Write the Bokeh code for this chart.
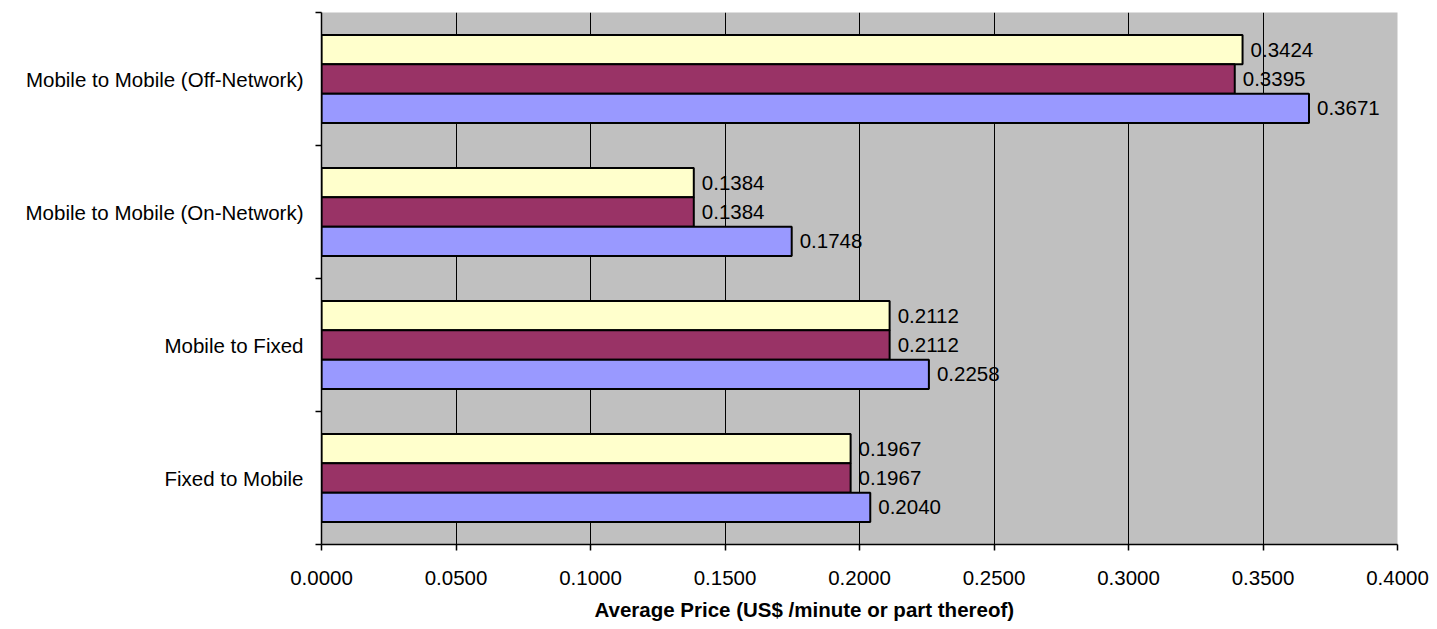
from bokeh.plotting import figure
from bokeh.models import FixedTicker, ColumnDataSource, Range1d, NumeralTickFormatter, Title
from bokeh.core.properties import value
from bokeh.transform import dodge
from bokeh.embed import file_html
from bokeh.resources import INLINE

categories = ["Fixed to Mobile", "Mobile to Fixed",
              "Mobile to Mobile (On-Network)", "Mobile to Mobile (Off-Network)"]
series_a = [0.1967, 0.2112, 0.1384, 0.3424]   # yellow (top bar)
series_b = [0.1967, 0.2112, 0.1384, 0.3395]   # maroon (middle bar)
series_c = [0.2040, 0.2258, 0.1748, 0.3671]   # blue (bottom bar)
x_ticks = [0.0, 0.05, 0.1, 0.15, 0.2, 0.25, 0.3, 0.35, 0.4]
x_title = "Average Price (US$ /minute or part thereof)"

FONT = "Liberation Sans"
FS = "20.5px"
pos = [i + 0.5 for i in range(len(categories))]

src = ColumnDataSource(dict(
    y=pos, a=series_a, b=series_b, c=series_c,
    la=["%.4f" % v for v in series_a],
    lb=["%.4f" % v for v in series_b],
    lc=["%.4f" % v for v in series_c],
))

p = figure(width=1437, height=629, output_backend="svg", toolbar_location=None,
           x_range=Range1d(0, 0.4), y_range=Range1d(0, len(categories)),
           min_border_left=321, min_border_right=40, min_border_top=12,
           min_border_bottom=85)
p.background_fill_color = "#C0C0C0"
p.border_fill_color = "white"
p.outline_line_color = None

bh = 0.22
specs = [("a", "la", "#FFFFCC", bh), ("b", "lb", "#993366", 0.0), ("c", "lc", "#9999FF", -bh)]
for col, lab, color, off in specs:
    p.hbar(y=dodge("y", off), right=col, left=0, height=bh, source=src,
           fill_color=color, line_color="black", line_width=2)
    p.text(x=col, y=dodge("y", off), text=lab, source=src, x_offset=8,
           text_baseline="middle", text_align="left", text_color="black",
           text_font=value(FONT), text_font_size=FS)

# axes
p.xaxis.ticker = FixedTicker(ticks=x_ticks)
p.xaxis.formatter = NumeralTickFormatter(format="0.0000")
p.xaxis.major_label_text_font = FONT
p.xaxis.major_label_text_font_size = FS
p.xaxis.major_label_text_color = "black"
p.xaxis.major_label_standoff = 20
p.xaxis.major_tick_out = 6
p.xaxis.major_tick_in = 0
p.xaxis.minor_tick_out = 0
p.xaxis.minor_tick_in = 0
p.xaxis.axis_line_color = "black"
p.xaxis.axis_line_width = 1.5
p.xaxis.major_tick_line_width = 1.5

# x-axis title (sits left of the frame centre, as in the original)
p.add_layout(Title(text=x_title, align="left", offset=273, standoff=17,
                   text_font=FONT, text_font_size=FS, text_font_style="bold",
                   text_color="black"), "below")

p.yaxis.ticker = FixedTicker(ticks=pos, minor_ticks=list(range(len(categories) + 1)))
p.yaxis.major_label_overrides = {v: c for v, c in zip(pos, categories)}
p.yaxis.major_label_text_font = FONT
p.yaxis.major_label_text_font_size = FS
p.yaxis.major_label_text_color = "black"
p.yaxis.major_label_standoff = 12
p.yaxis.major_tick_out = 0
p.yaxis.major_tick_in = 0
p.yaxis.minor_tick_out = 6
p.yaxis.minor_tick_in = 0
p.yaxis.minor_tick_line_color = "black"
p.yaxis.minor_tick_line_width = 1.5
p.yaxis.axis_line_color = "black"
p.yaxis.axis_line_width = 1.5

p.xgrid.ticker = FixedTicker(ticks=x_ticks)
p.xgrid.grid_line_color = "black"
p.xgrid.grid_line_width = 1
p.ygrid.grid_line_color = None

open("out.html", "w").write(file_html(p, INLINE))
